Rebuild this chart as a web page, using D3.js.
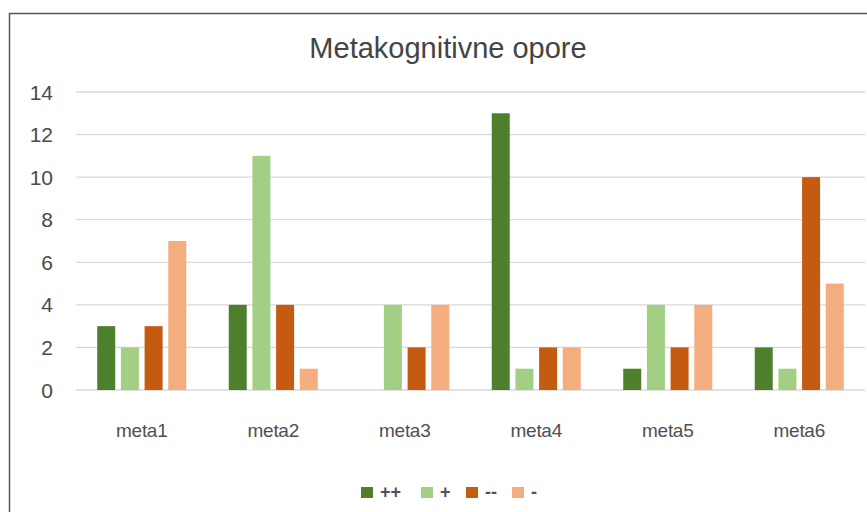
<!DOCTYPE html>
<html><head><meta charset="utf-8">
<script src="https://cdn.jsdelivr.net/npm/d3@7"></script>
<style>body{margin:0;background:#fff;}svg{display:block;font-family:"Liberation Sans",Arial,sans-serif;}</style>
</head><body><svg id="c" width="867" height="512"></svg>
<script>
const categories = ["meta1","meta2","meta3","meta4","meta5","meta6"];
const seriesNames = ["++","+","--","-"];
const seriesColors = ["#4e7f2c","#a3cf85","#c55a11","#f4ad7e"];
const valsPP = [3,4,0,13,1,2];
const valsP  = [2,11,4,1,4,1];
const valsMM = [3,4,2,2,2,10];
const valsM  = [7,1,4,2,4,5];
const yTicks = [0,2,4,6,8,10,12,14];
const series = [valsPP, valsP, valsMM, valsM];

const svg = d3.select("#c");
// frame
svg.append("rect").attr("x",9.5).attr("y",13.5).attr("width",900).attr("height",600)
  .attr("fill","#fff").attr("stroke","#555").attr("stroke-width",1.5);

const y = d3.scaleLinear().domain([0,14]).range([390,92]);
const x0 = d3.scaleBand().domain(categories).range([76,865]).paddingInner(0.323).paddingOuter(0.1615);
const x1 = d3.scaleBand().domain(d3.range(4)).range([0,x0.bandwidth()]).paddingInner(0.24);

// grid
svg.append("g").selectAll("line").data(yTicks).join("line")
  .attr("x1",76).attr("x2",865).attr("y1",d=>y(d)).attr("y2",d=>y(d))
  .attr("stroke","#d9d9d9").attr("stroke-width",1.3);

// y labels
svg.append("g").selectAll("text").data(yTicks).join("text")
  .attr("x",53).attr("y",d=>y(d)).attr("dy","0.36em").attr("text-anchor","end")
  .attr("font-size",21).attr("fill","#4a4a4a").text(d=>d);

// bars
const g = svg.append("g");
categories.forEach((c,ci)=>{
  series.forEach((s,si)=>{
    const v = s[ci];
    if (v<=0) return;
    g.append("rect").attr("x",x0(c)+x1(si)).attr("width",x1.bandwidth())
      .attr("y",y(v)).attr("height",y(0)-y(v)).attr("fill",seriesColors[si]);
  });
});

// x labels
svg.append("g").selectAll("text").data(categories).join("text")
  .attr("x",d=>x0(d)+x0.bandwidth()/2).attr("y",437).attr("text-anchor","middle")
  .attr("font-size",19).attr("letter-spacing","-0.3").attr("fill","#505050").text(d=>d);

// title
svg.append("text").attr("x",448).attr("y",58).attr("text-anchor","middle")
  .attr("font-size",29).attr("fill","#444").text("Metakognitivne opore");

// legend
const legX = [361,421,466,512];
seriesNames.forEach((n,i)=>{
  svg.append("rect").attr("x",legX[i]).attr("y",487).attr("width",12).attr("height",11).attr("fill",seriesColors[i]);
  svg.append("text").attr("x",legX[i]+19).attr("y",498).attr("font-size",18).attr("font-weight","bold")
    .attr("fill","#4a5260").text(n);
});
</script></body></html>
